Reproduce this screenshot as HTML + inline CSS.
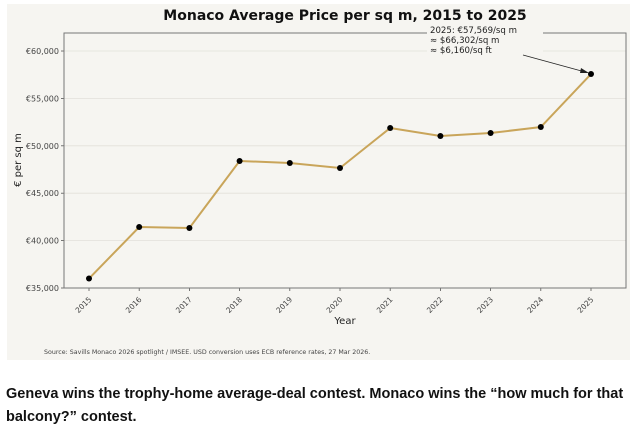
<!DOCTYPE html>
<html><head><meta charset="utf-8"><style>
body{margin:0;background:#fff;width:636px;height:428px;overflow:hidden;font-family:"Liberation Sans","DejaVu Sans",sans-serif}
#fig{position:absolute;left:7px;top:4px;width:623px;height:356px;background:#f6f5f1}
#cap{position:absolute;left:6px;top:383px;width:625px;font-weight:bold;font-size:14.5px;line-height:23px;color:#111}
</style></head><body>
<div id="fig"></div>
<svg id="svg" width="636" height="428" style="position:absolute;left:0;top:0" font-family="DejaVu Sans, Liberation Sans, sans-serif">
<text x="345" y="20" text-anchor="middle" font-size="14" font-weight="bold" fill="#111">Monaco Average Price per sq m, 2015 to 2025</text>
<g id="grid"></g>
<rect x="64" y="33" width="562" height="255" fill="none" stroke="#777" stroke-width="1"/>
<g id="marks"></g>
<text x="21" y="160" transform="rotate(-90 21 160)" text-anchor="middle" font-size="10" fill="#222">€ per sq m</text>
<text x="345" y="324" text-anchor="middle" font-size="10" fill="#222">Year</text>
<text x="44" y="354" font-size="6.3" fill="#444">Source: Savills Monaco 2026 spotlight / IMSEE. USD conversion uses ECB reference rates, 27 Mar 2026.</text>
<g>
<rect x="427" y="22" width="116" height="34" fill="#f6f5f1"/>
<text x="430" y="33" font-size="8.6" fill="#222">2025: €57,569/sq m</text>
<text x="430" y="43" font-size="8.6" fill="#222">≈ $66,302/sq m</text>
<text x="430" y="53" font-size="8.6" fill="#222">≈ $6,160/sq ft</text>
<line x1="523" y1="55" x2="587" y2="72.5" stroke="#222" stroke-width="0.8"/>
<path d="M589,73 L581,68 L580,73 Z" fill="#222"/>
</g>
</svg>
<div id="cap">Geneva wins the trophy-home average-deal contest. Monaco wins the “how much for that balcony?” contest.</div>
<script>
const years=[2015,2016,2017,2018,2019,2020,2021,2022,2023,2024,2025];
const prices=[36000,41430,41330,48400,48190,47660,51880,51030,51350,51980,57569];
const yTicks=[35000,40000,45000,50000,55000,60000];
const yTickLabels=["€35,000","€40,000","€45,000","€50,000","€55,000","€60,000"];
const NS="http://www.w3.org/2000/svg";
const yMin=35000,yMax=61900,plotTop=33,plotBot=288;
function X(yr){return 89+(yr-2015)*50.2;}
function Y(v){return plotBot-(v-yMin)/(yMax-yMin)*(plotBot-plotTop);}
function mk(t,a,p){const e=document.createElementNS(NS,t);for(const k in a)e.setAttribute(k,a[k]);p.appendChild(e);return e;}
const grid=document.getElementById('grid'),marks=document.getElementById('marks');
yTicks.forEach((v,i)=>{
 const l=mk('line',{x1:64,x2:626,y1:Y(v),y2:Y(v),stroke:'#e2e0da','stroke-width':0.8},grid);
 
 
 mk('line',{x1:61,x2:64,y1:Y(v),y2:Y(v),stroke:'#555','stroke-width':0.8},grid);
 const t=mk('text',{x:59,y:Y(v)+3,'text-anchor':'end','font-size':8,fill:'#444'},grid);
 t.textContent=yTickLabels[i];
 
 
});
years.forEach(yr=>{
 mk('line',{x1:X(yr),x2:X(yr),y1:288,y2:291,stroke:'#555','stroke-width':0.8},grid);
 const t=mk('text',{x:X(yr)+3,y:300,'text-anchor':'end','font-size':7.5,fill:'#444',transform:`rotate(-45 ${X(yr)+3} 300)`},grid);
 t.textContent=yr;
 
 
});
const pl=mk('polyline',{points:years.map((y,i)=>X(y)+','+Y(prices[i])).join(' '),fill:'none',stroke:'#c9a55a','stroke-width':2},marks);


years.forEach((y,i)=>{
 const c=mk('circle',{cx:X(y),cy:Y(prices[i]),r:3,fill:'#000'},marks);
 
 
});
</script>
</body></html>
